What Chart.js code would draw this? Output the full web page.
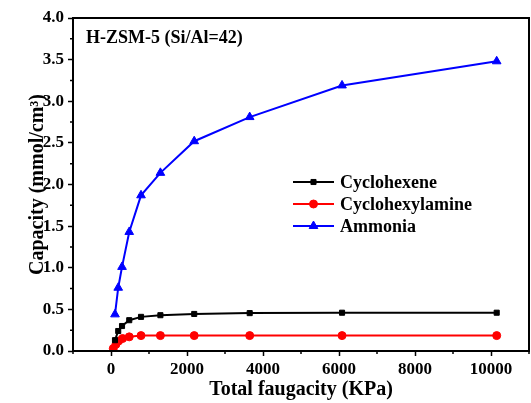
<!DOCTYPE html>
<html><head><meta charset="utf-8">
<script src="https://cdn.jsdelivr.net/npm/chart.js@4/dist/chart.umd.min.js"></script>
<style>html,body{margin:0;padding:0;background:#fff;}#wrap{width:531px;height:403px;}</style>
</head><body><div id="wrap"><canvas id="c" width="531" height="403"></canvas></div>
<script>
const titleText = "H-ZSM-5 (Si/Al=42)";
const xLabel = "Total faugacity (KPa)";
const yLabel = "Capacity (mmol/cm³)";
const seriesNames = ["Cyclohexene", "Cyclohexylamine", "Ammonia"];
const xTicks = [0, 2000, 4000, 6000, 8000, 10000];
const yTicks = [0, 0.5, 1.0, 1.5, 2.0, 2.5, 3.0, 3.5, 4.0];

const fugHexene = [105, 190, 290, 480, 790, 1300, 2190, 3650, 6080, 10150];
const capHexene = [0.13, 0.24, 0.30, 0.37, 0.41, 0.43, 0.445, 0.455, 0.46, 0.46];

const fugAmine = [60, 130, 200, 305, 480, 790, 1300, 2190, 3650, 6080, 10150];
const capAmine = [0.03, 0.08, 0.12, 0.15, 0.17, 0.185, 0.185, 0.185, 0.185, 0.185, 0.185];

const fugAmmonia = [105, 190, 290, 480, 790, 1300, 2190, 3650, 6080, 10150];
const capAmmonia = [0.44, 0.76, 1.01, 1.43, 1.87, 2.14, 2.52, 2.81, 3.19, 3.48];

const colors = ["#000000", "#ff0000", "#0000ff"];
const styles = ["rect", "circle", "triangle"];
const radii = [3.6, 4, 5];

function pts(xs, ys){ return xs.map((x,i)=>({x:x, y:ys[i]})); }

const FONT = "'Liberation Serif', 'Times New Roman', serif";

const framePlugin = {
  id: 'frame',
  afterDraw(chart){
    const ctx = chart.ctx, a = chart.chartArea;
    const xs = chart.scales.x, ys = chart.scales.y;
    ctx.save();
    ctx.strokeStyle = '#000';
    ctx.lineWidth = 2;
    ctx.strokeRect(a.left, a.top, a.right - a.left, a.bottom - a.top);
    ctx.lineWidth = 1.5;
    ctx.beginPath();
    for (let v = -1000; v <= 11000; v += 2000) {
      const px = xs.getPixelForValue(v);
      ctx.moveTo(px, a.bottom); ctx.lineTo(px, a.bottom + 3);
    }
    for (let v = 0.25; v <= 4; v += 0.5) {
      const py = ys.getPixelForValue(v);
      ctx.moveTo(a.left, py); ctx.lineTo(a.left - 3, py);
    }
    ctx.stroke();
    ctx.fillStyle = '#000';
    ctx.font = "bold 18px " + FONT;
    ctx.textBaseline = 'middle';
    ctx.textAlign = 'left';
    ctx.fillText(titleText, a.left + 13, 38);
    const lx = 293, ly = [182, 204, 226];
    ctx.font = "bold 18px " + FONT;
    chart.data.datasets.forEach((ds, i) => {
      const y = ly[i];
      ctx.strokeStyle = ds.borderColor;
      ctx.fillStyle = ds.borderColor;
      ctx.lineWidth = 2;
      ctx.beginPath(); ctx.moveTo(lx, y); ctx.lineTo(lx + 41, y); ctx.stroke();
      ctx.lineWidth = 1;
      Chart.helpers.drawPoint(ctx, {pointStyle: ds.pointStyle, radius: ds.pointRadius, borderWidth: 1, rotation: 0}, lx + 20.5, y);
      ctx.fillStyle = '#000';
      ctx.fillText(ds.label, lx + 47, y + 1);
    });
    ctx.restore();
  }
};

const datasets = [
  {label: seriesNames[0], data: pts(fugHexene, capHexene)},
  {label: seriesNames[1], data: pts(fugAmine, capAmine)},
  {label: seriesNames[2], data: pts(fugAmmonia, capAmmonia)}
].map((d, i) => Object.assign(d, {
  showLine: true,
  borderColor: colors[i],
  backgroundColor: colors[i],
  pointBackgroundColor: colors[i],
  pointBorderColor: colors[i],
  pointStyle: styles[i],
  pointRadius: radii[i],
  pointHoverRadius: radii[i],
  pointBorderWidth: 1,
  borderWidth: 2,
  tension: 0
}));

new Chart(document.getElementById('c'), {
  type: 'scatter',
  data: {datasets},
  plugins: [framePlugin],
  options: {
    responsive: false,
    animation: false,
    devicePixelRatio: 1,
    layout: {autoPadding: false, padding: {top: 18, right: 2, left: 0, bottom: 0}},
    plugins: {legend: {display: false}, tooltip: {enabled: false}},
    scales: {
      x: {
        type: 'linear', min: -1000, max: 11000,
        afterBuildTicks(s){ s.ticks = xTicks.map(v => ({value: v})); },
        afterFit(s){ s.height = 52; s.paddingLeft = 0; s.paddingRight = 0; },
        border: {display: false},
        grid: {drawOnChartArea: false, drawTicks: true, tickLength: 5, tickWidth: 1.5, tickColor: '#000'},
        ticks: {color: '#000', padding: 3, maxRotation: 0, callback: v => String(v), font: {family: FONT, weight: 'bold', size: 17}},
        title: {display: true, text: xLabel, color: '#000', padding: {top: 0, bottom: 1}, font: {family: FONT, weight: 'bold', size: 20}}
      },
      y: {
        type: 'linear', min: 0, max: 4,
        afterBuildTicks(s){ s.ticks = yTicks.map(v => ({value: v})); },
        afterFit(s){ s.width = 73; s.paddingTop = 0; s.paddingBottom = 0; },
        border: {display: false},
        grid: {drawOnChartArea: false, drawTicks: true, tickLength: 5, tickWidth: 1.5, tickColor: '#000'},
        ticks: {color: '#000', padding: 4, callback: v => Number(v).toFixed(1), font: {family: FONT, weight: 'bold', size: 17}},
        title: {display: true, text: yLabel, color: '#000', padding: {top: 26, bottom: 0}, font: {family: FONT, weight: 'bold', size: 20}}
      }
    }
  }
});
</script>
</body></html>
